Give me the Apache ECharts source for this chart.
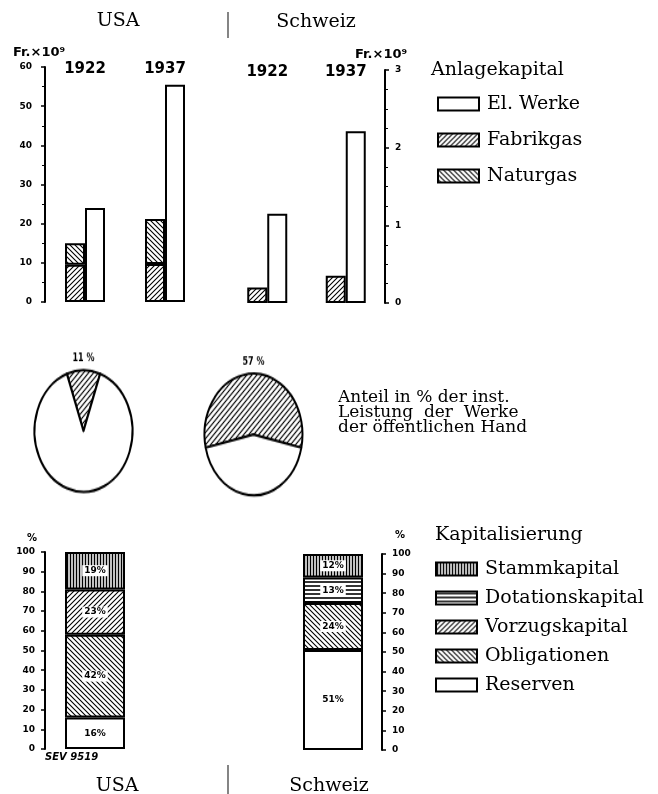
<!DOCTYPE html>
<html>
<head>
<meta charset="utf-8">
<script src="https://cdn.jsdelivr.net/npm/echarts@6/dist/echarts.min.js"></script>
<style>
html, body { margin: 0; padding: 0; background: #fff; }
#main { position: absolute; left: 0; top: 0; width: 658px; height: 794px; }
#pies { position: absolute; left: 0; top: 340px; width: 340px; height: 140px; transform: scaleY(1.24); transform-origin: 0 0; }
</style>
</head>
<body>
<div id="main"></div>
<div id="pies"></div>
<script>
// Anlagekapital, Fr. x 10^9
var years = ['1922', '1937'];
var usaWerke = [24, 55.5];
var usaFabrikgas = [9.5, 9.7];
var usaNaturgas = [5.5, 11.5];
var chWerke = [1.15, 2.21];
var chFabrikgas = [0.2, 0.35];
var chNaturgas = [null, null];

// Anteil der öffentlichen Hand, %
var usaShare = [11, 89];
var chShare = [57, 43];

// Kapitalisierung, % ([USA, Schweiz])
var stammkapital = [19, 12];
var dotationskapital = [null, 13];
var vorzugskapital = [23, null];
var obligationen = [42, 24];
var reserven = [16, 51];

function hatch(kind) {
    var s = kind == 'vert' ? 3 : (kind == 'horiz' ? 4 : 5);
    var c = document.createElement('canvas');
    c.width = s; c.height = s;
    var g = c.getContext('2d');
    g.fillStyle = '#fff';
    g.fillRect(0, 0, s, s);
    g.strokeStyle = '#000';
    g.lineWidth = 1.1;
    g.beginPath();
    if (kind == 'fwd') {
        g.moveTo(-1, s + 1); g.lineTo(s + 1, -1);
        g.moveTo(-1, 1); g.lineTo(1, -1);
        g.moveTo(s - 1, s + 1); g.lineTo(s + 1, s - 1);
    } else if (kind == 'back') {
        g.moveTo(-1, -1); g.lineTo(s + 1, s + 1);
        g.moveTo(s - 1, -1); g.lineTo(s + 1, 1);
        g.moveTo(-1, s - 1); g.lineTo(1, s + 1);
    } else if (kind == 'vert') {
        g.lineWidth = 1.5;
        g.moveTo(1.5, 0); g.lineTo(1.5, s);
    } else {
        g.lineWidth = 1.6;
        g.moveTo(0, 2); g.lineTo(s, 2);
    }
    g.stroke();
    return { image: c, repeat: 'repeat' };
}

var fwd = hatch('fwd'), back = hatch('back'), vert = hatch('vert'), horiz = hatch('horiz');
var black = '#000';
var tickFont = { fontFamily: 'DejaVu Sans', fontWeight: 'bold', fontSize: 9, color: black };
var serif = 'DejaVu Serif';

function yAx(idx, pos, max, interval, minor, margin) {
    return {
        gridIndex: idx, type: 'value', position: pos, min: 0, max: max, interval: interval,
        axisLine: { show: true, lineStyle: { color: black, width: 2 } },
        axisTick: { show: true, length: 4, lineStyle: { color: black, width: 1.5 } },
        minorTick: { show: minor > 0, splitNumber: minor || 5, length: 3, lineStyle: { color: black, width: 1 } },
        axisLabel: Object.assign({ margin: margin }, tickFont),
        splitLine: { show: false }
    };
}

function xTop(idx) {
    return {
        gridIndex: idx, type: 'category', data: years, position: 'top',
        axisLine: { show: false }, axisTick: { show: false },
        axisLabel: { margin: -10, fontFamily: 'DejaVu Sans', fontWeight: 'bold', fontSize: 15, color: black }
    };
}

function xBottom(idx, name) {
    return {
        gridIndex: idx, type: 'category', data: [name],
        axisLine: { show: false }, axisTick: { show: false }, axisLabel: { show: false }
    };
}

function bar(name, idx, data, color, stack, width) {
    return {
        name: name, type: 'bar', xAxisIndex: idx, yAxisIndex: idx, data: data,
        stack: stack + idx, barWidth: width, barGap: '0%',
        itemStyle: { color: color, borderColor: black, borderWidth: 2 }
    };
}

function kapSeries(name, values, color) {
    return [0, 1].map(function (i) {
        var s = bar(name, i + 2, [values[i]], color, 'kap', 60);
        s.label = {
            show: true, position: 'inside', formatter: '{c}%',
            fontFamily: 'DejaVu Sans', fontWeight: 'bold', fontSize: 9, color: black,
            backgroundColor: '#fff', padding: [1, 2]
        };
        return s;
    });
}

function txt(x, y, text, font, align, lh) {
    var st = { text: text, font: font, fill: black, textAlign: align || 'left', textVerticalAlign: 'middle' };
    if (lh) st.lineHeight = lh;
    return { type: 'text', x: x, y: y, silent: true, style: st };
}

function vline(x, y1, y2) {
    return { type: 'line', silent: true, shape: { x1: x, y1: y1, x2: x, y2: y2 }, style: { stroke: '#333', lineWidth: 1.2 } };
}

var legendBase = {
    orient: 'vertical', icon: 'rect', itemWidth: 41, itemHeight: 13, padding: 0,
    itemStyle: { borderColor: black, borderWidth: 2 },
    textStyle: { fontFamily: serif, fontSize: 19, color: black, lineHeight: 20, padding: [0, 0, 0, 3] }
};

var chart = echarts.init(document.getElementById('main'));
chart.setOption({
    animation: false,
    backgroundColor: '#fff',
    grid: [
        { left: 45, top: 67, width: 160, height: 235 },
        { left: 228, top: 70, width: 157, height: 233 },
        { left: 45, top: 552, width: 100, height: 197 },
        { left: 284, top: 554, width: 98, height: 196 }
    ],
    xAxis: [xTop(0), xTop(1), xBottom(2, 'USA'), xBottom(3, 'Schweiz')],
    yAxis: [
        yAx(0, 'left', 60, 10, 2, 13),
        yAx(1, 'right', 3, 1, 4, 10),
        yAx(2, 'left', 100, 10, 0, 10),
        yAx(3, 'right', 100, 10, 0, 10)
    ],
    legend: [
        Object.assign({ left: 437, top: 94, itemGap: 16, data: ['El. Werke', 'Fabrikgas', 'Naturgas'] }, legendBase),
        Object.assign({ left: 435, top: 559, itemGap: 9, data: ['Stammkapital', 'Dotationskapital', 'Vorzugskapital', 'Obligationen', 'Reserven'] }, legendBase)
    ],
    graphic: [
        txt(118, 21, 'USA', '19px ' + serif, 'center'),
        txt(316, 22, 'Schweiz', '19px ' + serif, 'center'),
        vline(228, 12, 38),
        txt(117, 786, 'USA', '19px ' + serif, 'center'),
        txt(329, 786, 'Schweiz', '19px ' + serif, 'center'),
        vline(228, 765, 794),
        txt(13, 53, 'Fr.×10⁹', 'bold 13px DejaVu Sans'),
        txt(355, 55, 'Fr.×10⁹', 'bold 13px DejaVu Sans'),
        txt(431, 70, 'Anlagekapital', '19px ' + serif),
        txt(338, 413, 'Anteil in % der inst.\nLeistung  der  Werke\nder öffentlichen Hand', '17px ' + serif, 'left', 15),
        txt(435, 535, 'Kapitalisierung', '19px ' + serif),
        txt(32, 538, '%', 'bold 10px DejaVu Sans', 'center'),
        txt(400, 535, '%', 'bold 10px DejaVu Sans', 'center'),
        txt(45, 757, 'SEV 9519', 'italic bold 10px DejaVu Sans')
    ],
    series: [
        bar('Fabrikgas', 0, usaFabrikgas, fwd, 'gas', 20),
        bar('Naturgas', 0, usaNaturgas, back, 'gas', 20),
        bar('El. Werke', 0, usaWerke, '#fff', 'werke', 20),
        bar('Fabrikgas', 1, chFabrikgas, fwd, 'gas', 20),
        bar('Naturgas', 1, chNaturgas, back, 'gas', 20),
        bar('El. Werke', 1, chWerke, '#fff', 'werke', 20)
    ].concat(
        kapSeries('Reserven', reserven, '#fff'),
        kapSeries('Obligationen', obligationen, back),
        kapSeries('Vorzugskapital', vorzugskapital, fwd),
        kapSeries('Dotationskapital', dotationskapital, horiz),
        kapSeries('Stammkapital', stammkapital, vert)
    )
});

function pie(center, share) {
    return {
        type: 'pie', center: center, radius: 49, clockwise: true,
        startAngle: 90 + share[0] * 1.8,
        label: { show: false }, labelLine: { show: false },
        data: [
            { value: share[0], name: 'öffentliche Hand', itemStyle: { color: fwd, borderColor: black, borderWidth: 2 } },
            { value: share[1], name: 'übrige', itemStyle: { color: '#fff', borderColor: black, borderWidth: 2 } }
        ]
    };
}

var pieChart = echarts.init(document.getElementById('pies'));
pieChart.setOption({
    animation: false,
    graphic: [
        txt(83.5, 14.5, usaShare[0] + ' %', 'bold 8px DejaVu Sans', 'center'),
        txt(253.5, 17.7, chShare[0] + ' %', 'bold 8px DejaVu Sans', 'center')
    ],
    series: [pie([83.5, 73.4], usaShare), pie([253.5, 76.2], chShare)]
});
</script>
</body>
</html>
